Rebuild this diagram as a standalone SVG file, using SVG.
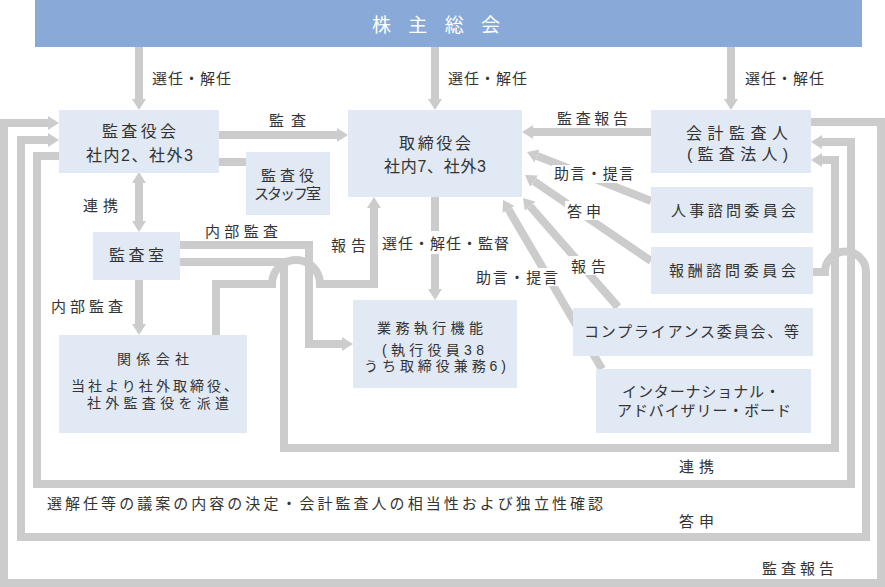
<svg xmlns="http://www.w3.org/2000/svg" width="885" height="587" viewBox="0 0 885 587">
<style>
.box{fill:#e1e9f5}
.t{font-family:"Liberation Sans","Noto Sans CJK JP","Noto Sans CJK SC",sans-serif;fill:#333;font-size:15px}
.b16{font-size:16px}
.b14{font-size:14px}
.top{font-family:"Liberation Sans","Noto Sans CJK JP","Noto Sans CJK SC",sans-serif;fill:#fff;font-size:19px}
.c{fill:none;stroke:#cccccc;stroke-width:8;stroke-linejoin:miter}
.a{marker-end:url(#ah)}
.bg{fill:#fff}
</style>
<defs>
<marker id="ah" markerUnits="userSpaceOnUse" markerWidth="11" markerHeight="14" refX="0" refY="7" orient="auto-start-reverse" viewBox="0 0 11 14"><path d="M0,0L11,7L0,14Z" fill="#cccccc"/></marker>
</defs>
<rect width="885" height="587" fill="#fff"/>

<g id="connectors">
<path class="c a" d="M139,47V99"/>
<path class="c a" d="M435,47V99"/>
<path class="c a" d="M731,47V99"/>
<path class="c a" d="M219,135H337"/>
<path class="c" d="M219,162H246"/>
<path class="c a" d="M139,183V221" marker-start="url(#ah)"/>
<path class="c a" d="M139,280V324"/>
<path class="c a" d="M180,245H309V344H342"/>
<path class="c a" d="M180,262H284V448H835V160H822"/>
<path class="c a" d="M59,156H37V484H851V142H822"/>
<path class="c a" d="M811,122H881V583H4V123H48"/>
<path class="c a" d="M812,272H825A20.5,20.5 0 0 1 866,272V537H21V140H48"/>
<path class="c a" d="M216,335V284H272A24,24 0 0 1 320,284H374V208"/>
<path class="c a" d="M435,197V289"/>
<path class="c a" d="M651,132H533"/>
<path class="c a" d="M651,201L537.2,156"/>
<path class="c a" d="M651,261L534.1,181.2"/>
<path class="c a" d="M618,307L530.2,206.3"/>
<path class="c a" d="M602,369L508.6,209.5"/>
</g>

<g id="labels">
<rect class="bg" x="380" y="231" width="131" height="23"/>
<rect class="bg" x="552" y="165" width="84" height="18"/>
<rect class="bg" x="565" y="201" width="38" height="19"/>
<rect class="bg" x="569" y="256" width="39" height="19"/>
<rect class="bg" x="474" y="268" width="86" height="18"/>
<text class="t" x="152" y="84" textLength="79">選任・解任</text>
<text class="t" x="448" y="84" textLength="79">選任・解任</text>
<text class="t" x="745" y="84" textLength="79">選任・解任</text>
<text class="t" x="269" y="126" textLength="37">監査</text>
<text class="t" x="83" y="211" textLength="35">連携</text>
<text class="t" x="205" y="237" textLength="73">内部監査</text>
<text class="t" x="331" y="251" textLength="35">報告</text>
<text class="t" x="382" y="249" textLength="127">選任・解任・監督</text>
<text class="t" x="557" y="124" textLength="71">監査報告</text>
<text class="t" x="554" y="179" textLength="80">助言・提言</text>
<text class="t" x="567" y="217" textLength="34">答申</text>
<text class="t" x="571" y="272" textLength="35">報告</text>
<text class="t" x="476" y="283" textLength="82">助言・提言</text>
<text class="t" x="51" y="312" textLength="72">内部監査</text>
<text class="t" x="679" y="472" textLength="35">連携</text>
<text class="t" x="47" y="509" textLength="556">選解任等の議案の内容の決定・会計監査人の相当性および独立性確認</text>
<text class="t" x="679" y="527" textLength="35">答申</text>
<text class="t" x="762" y="574" textLength="72">監査報告</text>
</g>

<g id="shareholders">
<rect x="35" y="0" width="827" height="47" fill="#89aad8"/>
<text class="top" x="372" y="32" textLength="128">株主総会</text>
</g>
<g id="kansayakukai">
<rect class="box" x="59" y="110" width="160" height="63"/>
<text class="t b16" x="102" y="137" textLength="74">監査役会</text>
<text class="t b16" x="86" y="161" textLength="107">社内2、社外3</text>
</g>
<g id="staff">
<rect class="box" x="246" y="152" width="84" height="63"/>
<text class="t" x="261" y="181" textLength="53">監査役</text>
<text class="t" x="254" y="199" textLength="67">スタッフ室</text>
</g>
<g id="torishimariyakukai">
<rect class="box" x="348" y="110" width="174" height="87"/>
<text class="t b16" x="399" y="149" textLength="72">取締役会</text>
<text class="t b16" x="384" y="172" textLength="102">社内7、社外3</text>
</g>
<g id="kaikei">
<rect class="box" x="651" y="110" width="160" height="63"/>
<text class="t b16" x="686" y="139" textLength="102">会計監査人</text>
<text class="t b16" x="687" y="160" textLength="101">(監査法人)</text>
</g>
<g id="jinji">
<rect class="box" x="651" y="187" width="162" height="46"/>
<text class="t" x="671" y="216" textLength="125">人事諮問委員会</text>
</g>
<g id="houshu">
<rect class="box" x="651" y="247" width="162" height="47"/>
<text class="t" x="669" y="276" textLength="127">報酬諮問委員会</text>
</g>
<g id="kansashitsu">
<rect class="box" x="93" y="232" width="87" height="48"/>
<text class="t b16" x="109" y="261" textLength="55">監査室</text>
</g>
<g id="kankei">
<rect class="box" x="59" y="335" width="188" height="98"/>
<text class="t b14" x="117" y="364" textLength="72">関係会社</text>
<text class="t b14" x="71" y="391" textLength="167">当社より社外取締役、</text>
<text class="t b14" x="87" y="408" textLength="142">社外監査役を派遣</text>
</g>
<g id="gyomu">
<rect class="box" x="353" y="300" width="164" height="88"/>
<text class="t b14" x="377" y="333" textLength="106">業務執行機能</text>
<text class="t b14" x="382" y="355" textLength="102">(執行役員38</text>
<text class="t b14" x="364" y="371" textLength="142">うち取締役兼務6)</text>
</g>
<g id="compliance">
<rect class="box" x="573" y="308" width="240" height="48"/>
<text class="t" x="584" y="337" textLength="215">コンプライアンス委員会、等</text>
</g>
<g id="iab">
<rect class="box" x="596" y="369" width="215" height="64"/>
<text class="t" x="622" y="397" textLength="158">インターナショナル・</text>
<text class="t" x="617" y="416" textLength="174">アドバイザリー・ボード</text>
</g>
</svg>
